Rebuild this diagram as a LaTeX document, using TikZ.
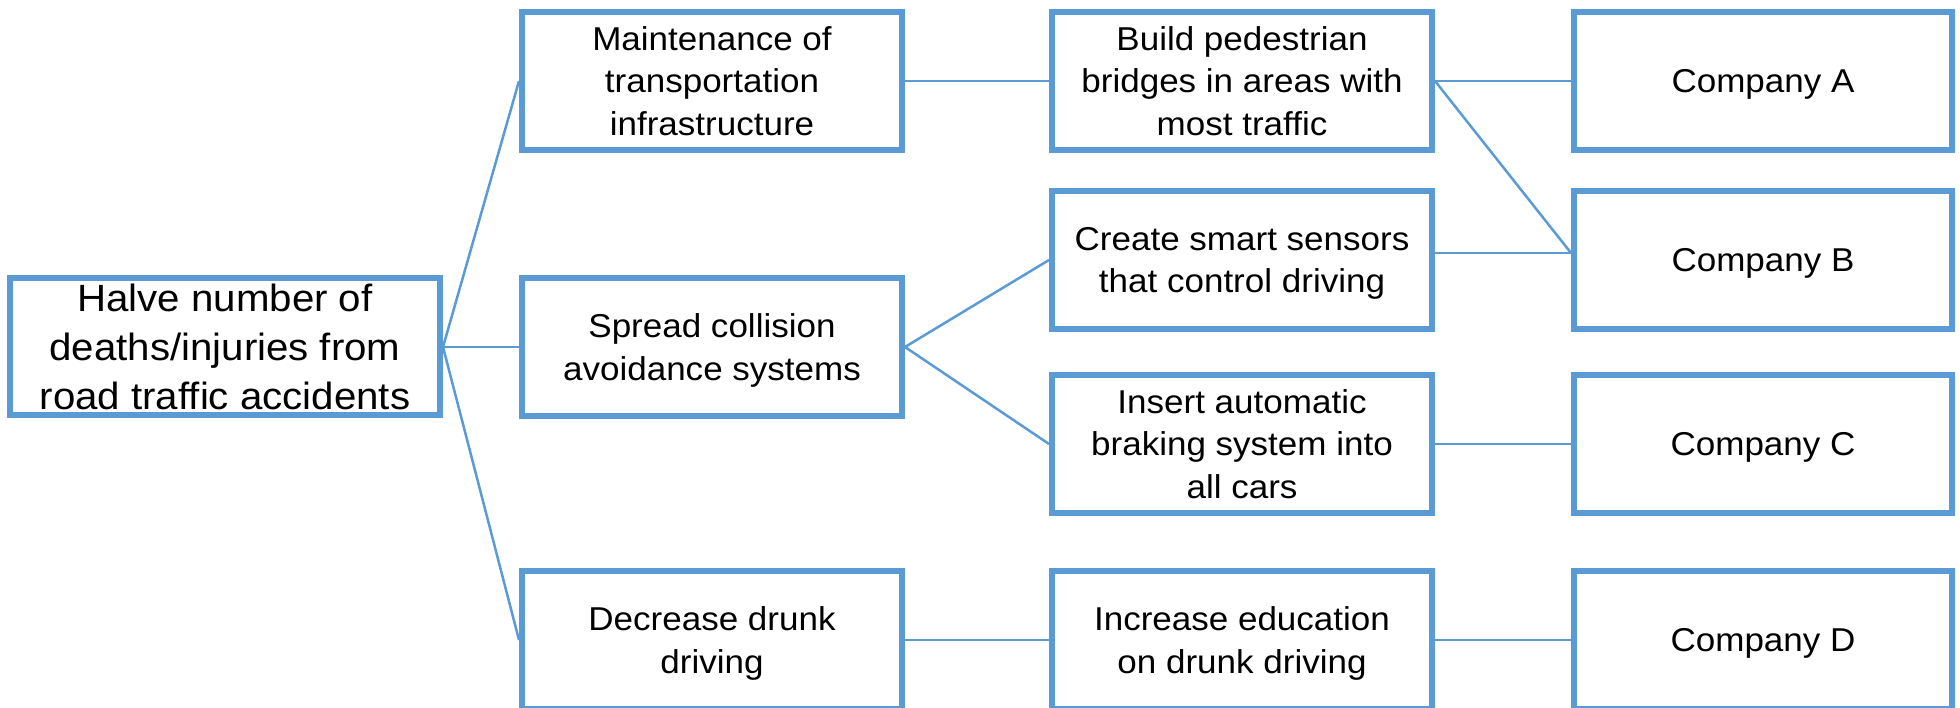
\documentclass[tikz,border=0pt]{standalone}
\usepackage{fontspec}
\setmainfont{Liberation Sans}[FakeStretch=1.06]
\usepackage{tikz}
\definecolor{boxblue}{HTML}{5B9BD5}

\begin{document}
\begin{tikzpicture}[scale=1,
  box/.style={draw=boxblue, line width=0.06cm, fill=white, inner sep=0pt, align=center,
    text depth=0pt, minimum width=3.8cm, minimum height=1.38cm, font=\fontsize{9.4}{12.2}\selectfont},
  link/.style={draw=boxblue, line width=0.025cm}]

\useasboundingbox (0,0) rectangle (19.6,-7.08);

\node [box, minimum width=4.3cm, minimum height=1.37cm, font=\fontsize{10.8}{13.9}\selectfont] (G) at (2.25,-3.47) {Halve number of\\deaths/injuries from\\road traffic accidents};

\node [box] (M1) at (7.12,-0.81) {Maintenance of\\transportation\\infrastructure};
\node [box] (M2) at (7.12,-3.47) {Spread collision\\avoidance systems};
\node [box] (M3) at (7.12,-6.40) {Decrease drunk\\driving};

\node [box] (P1) at (12.42,-0.81) {Build pedestrian\\bridges in areas with\\most traffic};
\node [box] (P2) at (12.42,-2.60) {Create smart sensors\\that control driving};
\node [box] (P3) at (12.42,-4.44) {Insert automatic\\braking system into\\all cars};
\node [box] (P4) at (12.42,-6.40) {Increase education\\on drunk driving};

\node [box, minimum width=3.78cm] (CA) at (17.63,-0.81) {Company A};
\node [box, minimum width=3.78cm] (CB) at (17.63,-2.60) {Company B};
\node [box, minimum width=3.78cm] (CC) at (17.63,-4.44) {Company C};
\node [box, minimum width=3.78cm] (CD) at (17.63,-6.40) {Company D};

\draw [link] (G.east) -- (M1.west);
\draw [link] (G.east) -- (M2.west);
\draw [link] (G.east) -- (M3.west);

\draw [link] (M1.east) -- (P1.west);
\draw [link] (M2.east) -- (P2.west);
\draw [link] (M2.east) -- (P3.west);
\draw [link] (M3.east) -- (P4.west);

\draw [link] (P1.east) -- (CA.west);
\draw [link] (P1.east) -- ([yshift=0.07cm]CB.west);
\draw [link] ([yshift=0.07cm]P2.east) -- ([yshift=0.07cm]CB.west);
\draw [link] (P3.east) -- (CC.west);
\draw [link] (P4.east) -- (CD.west);

\end{tikzpicture}
\end{document}
